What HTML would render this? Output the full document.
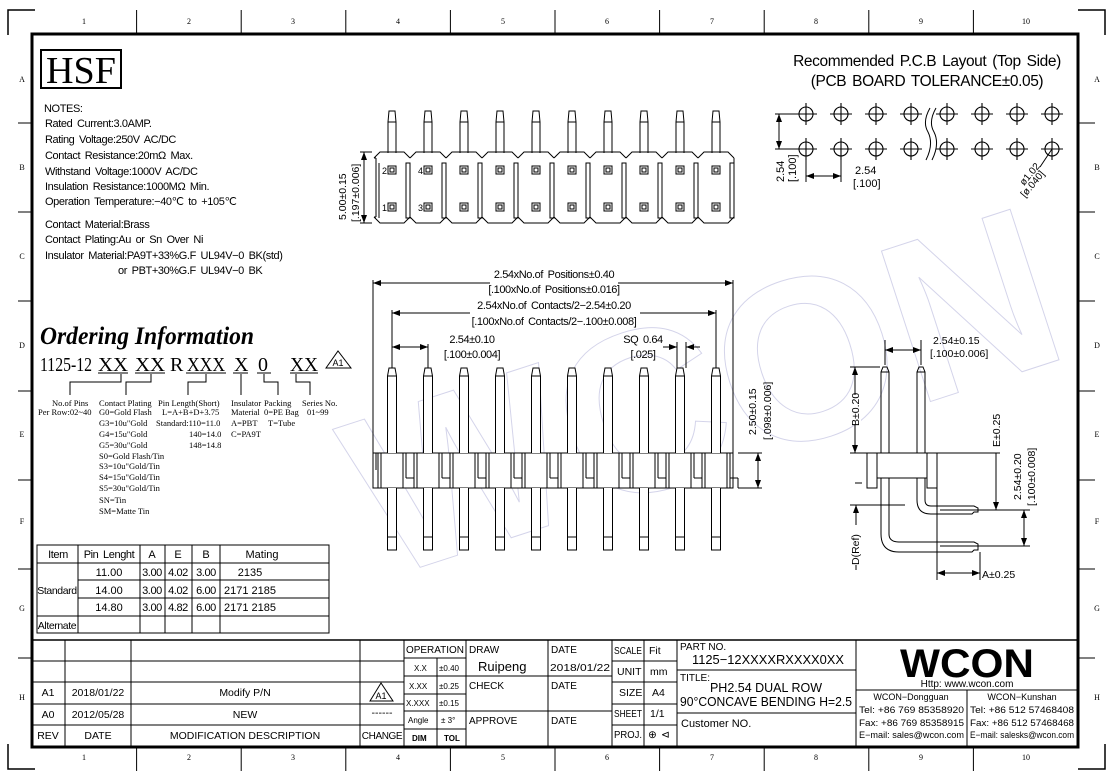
<!DOCTYPE html>
<html><head><meta charset="utf-8"><style>
html,body{margin:0;padding:0;background:#fff}
svg{display:block}
text{font-family:"Liberation Sans",sans-serif;fill:#000}
.s{font-family:"Liberation Serif",serif}
.n{letter-spacing:-0.4px;word-spacing:2px}
</style></head><body>
<svg width="1113" height="779" viewBox="0 0 1113 779" xmlns="http://www.w3.org/2000/svg">
<defs>
<g id="tp" fill="none" stroke="#000" stroke-width="1">
<path d="M-4,153 V122 L-3,111 H3 L4,122 V153 M-4,122 H4"/>
<path d="M-18,158 L-12,152 H12 L18,158 M-18,217 L-12,223 H12 L18,217"/>
<rect x="14" y="163" width="4" height="55"/>
<rect x="-4" y="166" width="8" height="8"/><rect x="-2" y="168" width="4" height="4"/>
<rect x="-4" y="203" width="8" height="8"/><rect x="-2" y="205" width="4" height="4"/>
</g>
<g id="fp" fill="#fff" stroke="#000" stroke-width="1">
<path d="M-4.5,453 V376 L-3,368 H3 L4.5,376 V453 M-4.5,376 H4.5"/>
<path d="M-4.5,488 V550 H4.5 V488 M-4.5,537 H4.5"/>
<path d="M-14,453 V488 M-11,453 V488 M11,453 V478 M14,453 V478 M14,478 H22 M11,478 V488 M22,478 V488" fill="none"/>
</g>
<g id="hole" fill="none" stroke="#000" stroke-width="1.1"><circle r="7"/><path d="M-11,0 H11 M0,-11 V11"/></g>
<marker id="ar" markerWidth="8" markerHeight="6" refX="8" refY="3" orient="auto-start-reverse" markerUnits="userSpaceOnUse"><path d="M0,0 L8,3 L0,6 z" fill="#000"/></marker>
</defs>

<path d="M8,35 V10 H35 M8,744 V769 H35 M1105,35 V10 H1078 M1105,744 V769 H1078" fill="none" stroke="#000" stroke-width="1.5"/>
<rect x="32" y="34" width="1046" height="713" fill="none" stroke="#000" stroke-width="3"/>
<g stroke="#000" stroke-width="1">
<path d="M136.6,10 V34 M241.2,10 V34 M345.8,10 V34 M450.4,10 V34 M555,10 V34 M659.6,10 V34 M764.2,10 V34 M868.8,10 V34 M973.4,10 V34"/>
<path d="M136.6,747 V771 M241.2,747 V771 M345.8,747 V771 M450.4,747 V771 M555,747 V771 M659.6,747 V771 M764.2,747 V771 M868.8,747 V771 M973.4,747 V771"/>
<path d="M18,123 H32 M18,212 H32 M18,301 H32 M18,391 H32 M18,480 H32 M18,569 H32 M18,658 H32"/>
<path d="M1078,123 H1095 M1078,212 H1095 M1078,301 H1095 M1078,391 H1095 M1078,480 H1095 M1078,569 H1095 M1078,658 H1095"/>
</g>
<g font-size="8" text-anchor="middle">
<text class="s" x="84" y="24">1</text><text class="s" x="189" y="24">2</text><text class="s" x="293" y="24">3</text><text class="s" x="398" y="24">4</text><text class="s" x="503" y="24">5</text><text class="s" x="607" y="24">6</text><text class="s" x="712" y="24">7</text><text class="s" x="816" y="24">8</text><text class="s" x="921" y="24">9</text><text class="s" x="1026" y="24">10</text>
<text class="s" x="84" y="760">1</text><text class="s" x="189" y="760">2</text><text class="s" x="293" y="760">3</text><text class="s" x="398" y="760">4</text><text class="s" x="503" y="760">5</text><text class="s" x="607" y="760">6</text><text class="s" x="712" y="760">7</text><text class="s" x="816" y="760">8</text><text class="s" x="921" y="760">9</text><text class="s" x="1026" y="760">10</text>
<text class="s" x="22" y="82">A</text><text class="s" x="22" y="170">B</text><text class="s" x="22" y="259">C</text><text class="s" x="22" y="348">D</text><text class="s" x="22" y="437">E</text><text class="s" x="22" y="524">F</text><text class="s" x="22" y="611">G</text><text class="s" x="22" y="700">H</text>
<text class="s" x="1097" y="82">A</text><text class="s" x="1097" y="170">B</text><text class="s" x="1097" y="259">C</text><text class="s" x="1097" y="348">D</text><text class="s" x="1097" y="437">E</text><text class="s" x="1097" y="524">F</text><text class="s" x="1097" y="611">G</text><text class="s" x="1097" y="700">H</text>
</g>

<text x="340" y="520" font-size="230" font-weight="bold" stroke="#d4d4ea" stroke-width="1" style="fill:none" transform="rotate(-18 550 420)">WCON</text>

<rect x="41" y="50" width="80" height="38" fill="none" stroke="#000" stroke-width="2"/>
<text class="s" x="81" y="83" font-size="38" text-anchor="middle" textLength="70" lengthAdjust="spacingAndGlyphs">HSF</text>

<g font-size="11">
<text class="n" x="44" y="112">NOTES:</text>
<text class="n" x="45" y="127">Rated Current:3.0AMP.</text>
<text class="n" x="45" y="143">Rating Voltage:250V AC/DC</text>
<text class="n" x="45" y="159">Contact Resistance:20mΩ Max.</text>
<text class="n" x="45" y="175">Withstand Voltage:1000V AC/DC</text>
<text class="n" x="45" y="190">Insulation Resistance:1000MΩ Min.</text>
<text class="n" x="45" y="205">Operation Temperature:−40℃ to +105℃</text>
<text class="n" x="45" y="228">Contact Material:Brass</text>
<text class="n" x="45" y="243">Contact Plating:Au or Sn Over Ni</text>
<text class="n" x="45" y="259">Insulator Material:PA9T+33%G.F UL94V−0 BK(std)</text>
<text class="n" x="118" y="274">or PBT+30%G.F UL94V−0 BK</text>
</g>

<text class="s" x="40" y="344" font-size="25" font-weight="bold" font-style="italic" textLength="214" lengthAdjust="spacingAndGlyphs">Ordering Information</text>
<g font-size="20">
<text class="s" x="40" y="371" textLength="52" lengthAdjust="spacingAndGlyphs">1125-12</text>
<text class="s" x="98" y="371" textLength="30" lengthAdjust="spacingAndGlyphs">XX</text>
<text class="s" x="135" y="371" textLength="30" lengthAdjust="spacingAndGlyphs">XX</text>
<text class="s" x="170" y="371">R</text>
<text class="s" x="187" y="371" textLength="38" lengthAdjust="spacingAndGlyphs">XXX</text>
<text class="s" x="234" y="371">X</text>
<text class="s" x="258" y="371">0</text>
<text class="s" x="290" y="371" textLength="28" lengthAdjust="spacingAndGlyphs">XX</text>
</g>
<path d="M98,373 H128 M135,373 H165 M186,373 H226 M233,373 H248 M257,373 H271 M290,373 H318" stroke="#000"/>
<path d="M326,368 L338,351 L351,368 Z" fill="none" stroke="#000"/>
<text x="338" y="366" font-size="9" text-anchor="middle">A1</text>
<path d="M121,374 V382 H70 V395 M151,374 V382 H126 V395 M206,374 V382 H188 V395 M241,374 V395 M264,374 V382 H278 V395 M296,374 V382 H310 V395" fill="none" stroke="#000"/>
<g font-size="8.5">
<text class="s" x="52" y="406">No.of Pins</text><text class="s" x="38" y="415">Per Row:02~40</text>
<text class="s" x="99" y="406">Contact Plating</text><text class="s" x="99" y="415">G0=Gold Flash</text>
<text class="s" x="99" y="426">G3=10u"Gold</text><text class="s" x="99" y="437">G4=15u"Gold</text><text class="s" x="99" y="448">G5=30u"Gold</text>
<text class="s" x="99" y="459">S0=Gold Flash/Tin</text><text class="s" x="99" y="469">S3=10u"Gold/Tin</text><text class="s" x="99" y="480">S4=15u"Gold/Tin</text><text class="s" x="99" y="491">S5=30u"Gold/Tin</text>
<text class="s" x="99" y="503">SN=Tin</text><text class="s" x="99" y="514">SM=Matte Tin</text>
<text class="s" x="158" y="406">Pin Length(Short)</text><text class="s" x="162" y="415">L=A+B+D+3.75</text>
<text class="s" x="156" y="426">Standard:110=11.0</text><text class="s" x="189" y="437">140=14.0</text><text class="s" x="189" y="448">148=14.8</text>
<text class="s" x="231" y="406">Insulator</text><text class="s" x="231" y="415">Material</text><text class="s" x="231" y="426">A=PBT</text><text class="s" x="231" y="437">C=PA9T</text>
<text class="s" x="264" y="406">Packing</text><text class="s" x="264" y="415">0=PE Bag</text><text class="s" x="268" y="426">T=Tube</text>
<text class="s" x="302" y="406">Series No.</text><text class="s" x="307" y="415">01~99</text>
</g>

<g fill="none" stroke="#000" stroke-width="1">
<rect x="37" y="545" width="292" height="88"/>
<path d="M78,545 V633 M140,545 V633 M165,545 V633 M192,545 V633 M220,545 V633"/>
<path d="M37,563 H329 M78,580 H329 M78,598 H329 M37,616 H329"/>
</g>
<g font-size="11" text-anchor="middle">
<text class="n" x="58" y="558">Item</text><text class="n" x="109" y="558">Pin Lenght</text><text x="152" y="558">A</text><text x="178" y="558">E</text><text x="206" y="558">B</text><text x="262" y="558">Mating</text>
<text x="109" y="576">11.00</text><text class="n" x="152" y="576">3.00</text><text class="n" x="178" y="576">4.02</text><text class="n" x="206" y="576">3.00</text><text x="250" y="576">2135</text>
<text class="n" x="57" y="594" font-size="10.5">Standard</text>
<text x="109" y="594">14.00</text><text class="n" x="152" y="594">3.00</text><text class="n" x="178" y="594">4.02</text><text class="n" x="206" y="594">6.00</text><text x="250" y="594">2171 2185</text>
<text x="109" y="611">14.80</text><text class="n" x="152" y="611">3.00</text><text class="n" x="178" y="611">4.82</text><text class="n" x="206" y="611">6.00</text><text x="250" y="611">2171 2185</text>
<text class="n" x="57" y="629" font-size="10.5">Alternate</text>
</g>

<g>
<use href="#tp" x="392"/><use href="#tp" x="428"/><use href="#tp" x="464"/><use href="#tp" x="500"/><use href="#tp" x="536"/><use href="#tp" x="572"/><use href="#tp" x="608"/><use href="#tp" x="644"/><use href="#tp" x="680"/><use href="#tp" x="716"/>
<path d="M376,158 V217 M379,163 V218 M374,158 H376 M374,217 H376 M734,158 V217" fill="none" stroke="#000"/>
<text x="382" y="174" font-size="9">2</text><text x="382" y="211" font-size="9">1</text><text x="418" y="174" font-size="9">4</text><text x="418" y="211" font-size="9">3</text>
<path d="M360,152 H372 M360,223 H372" stroke="#000"/>
<line x1="364" y1="152" x2="364" y2="223" stroke="#000" marker-start="url(#ar)" marker-end="url(#ar)"/>
<text font-size="10.5" transform="translate(346,220) rotate(-90)">5.00±0.15</text>
<text font-size="10.5" transform="translate(359,222) rotate(-90)">[.197±0.006]</text>
</g>

<g>
<rect x="373" y="453" width="360" height="35" fill="#fff" stroke="#000"/>
<use href="#fp" x="392"/><use href="#fp" x="428"/><use href="#fp" x="464"/><use href="#fp" x="500"/><use href="#fp" x="536"/><use href="#fp" x="572"/><use href="#fp" x="608"/><use href="#fp" x="644"/><use href="#fp" x="680"/><use href="#fp" x="716"/>
<path d="M376,453 V470 M730,453 V488" stroke="#000"/>
<path d="M373,453 V280 M733,453 V280 M392,368 V310 M716,368 V310 M428,368 V344 M677,368 V342 M686,368 V342" stroke="#000" fill="none"/>
<line x1="373" y1="283" x2="733" y2="283" stroke="#000" marker-start="url(#ar)" marker-end="url(#ar)"/>
<line x1="392" y1="313" x2="716" y2="313" stroke="#000" marker-start="url(#ar)" marker-end="url(#ar)"/>
<line x1="392" y1="347" x2="428" y2="347" stroke="#000" marker-start="url(#ar)" marker-end="url(#ar)"/>
<line x1="663" y1="347" x2="677" y2="347" stroke="#000" marker-end="url(#ar)"/>
<line x1="700" y1="347" x2="686" y2="347" stroke="#000" marker-end="url(#ar)"/>
<g font-size="11" text-anchor="middle">
<rect x="490" y="268" width="128" height="26" fill="#fff"/>
<text class="n" x="554" y="278">2.54xNo.of Positions±0.40</text>
<text class="n" x="554" y="293">[.100xNo.of Positions±0.016]</text>
<rect x="470" y="299" width="170" height="26" fill="#fff"/>
<text class="n" x="554" y="309">2.54xNo.of Contacts/2−2.54±0.20</text>
<text class="n" x="554" y="325">[.100xNo.of Contacts/2−.100±0.008]</text>
<text class="n" x="472" y="343">2.54±0.10</text><text class="n" x="472" y="358">[.100±0.004]</text>
<text class="n" x="643" y="343">SQ 0.64</text><text class="n" x="643" y="358">[.025]</text>
</g>
<path d="M738,453 H762 M738,488 H762" stroke="#000"/>
<line x1="758" y1="453" x2="758" y2="488" stroke="#000" marker-start="url(#ar)" marker-end="url(#ar)"/>
<text font-size="10.5" transform="translate(756,435) rotate(-90)">2.50±0.15</text>
<text font-size="10.5" transform="translate(771,440) rotate(-90)">[.098±0.006]</text>
</g>

<g fill="none" stroke="#000" stroke-width="1">
<path d="M881,453 V372 L883,367 H887 L889,372 V453 M881,372 H889"/>
<path d="M917,453 V372 L919,367 H923 L925,372 V453 M917,372 H925"/>
<rect x="877" y="453" width="50" height="25" fill="#fff"/>
<rect x="867" y="453" width="10" height="35"/><rect x="927" y="453" width="10" height="35"/>
<path d="M917,478 V500 Q917,514 931,514 H972 L974,512 H978 V508 L974,506 H931 Q925,506 925,500 V478"/>
<path d="M881,478 V534 Q881,552 899,552 H972 L974,550 H978 V544 L974,542 H899 Q889,542 889,534 V478"/>
<path d="M885,365 V340 M921,365 V340 M850,367 H880 M850,453 H1000 M855,483 H862 M850,505 H905 M940,510 H1030 M940,546 H1030 M937,488 V580 M980,552 V580"/>
</g>
<line x1="885" y1="350" x2="921" y2="350" stroke="#000" marker-start="url(#ar)" marker-end="url(#ar)"/>
<line x1="855" y1="367" x2="855" y2="453" stroke="#000" marker-start="url(#ar)" marker-end="url(#ar)"/>
<line x1="996" y1="453" x2="996" y2="510" stroke="#000" marker-end="url(#ar)"/>
<line x1="1024" y1="510" x2="1024" y2="546" stroke="#000" marker-start="url(#ar)" marker-end="url(#ar)"/>
<line x1="937" y1="573" x2="980" y2="573" stroke="#000" marker-start="url(#ar)" marker-end="url(#ar)"/>
<line x1="856" y1="505" x2="856" y2="570" stroke="#000" marker-start="url(#ar)"/>
<g font-size="10.5">
<rect x="849" y="395" width="12" height="30" fill="#fff"/>
<text transform="translate(859,426) rotate(-90)">B±0.20</text>
<rect x="991" y="410" width="12" height="36" fill="#fff"/>
<text transform="translate(1000,447) rotate(-90)">E±0.25</text>
<text transform="translate(1021,500) rotate(-90)">2.54±0.20</text>
<text transform="translate(1035,506) rotate(-90)">[.100±0.008]</text>
<rect x="850" y="525" width="12" height="40" fill="#fff"/>
<text transform="translate(859,565) rotate(-90)">D(Ref)</text>
<text x="982" y="578">A±0.25</text>
<text x="933" y="344">2.54±0.15</text>
<text x="930" y="357">[.100±0.006]</text>
</g>

<text x="927" y="66" font-size="15.5" text-anchor="middle" class="n">Recommended P.C.B Layout (Top Side)</text>
<text x="927" y="86" font-size="15.5" text-anchor="middle" class="n">(PCB BOARD TOLERANCE±0.05)</text>
<g>
<use href="#hole" x="806" y="114"/><use href="#hole" x="841" y="114"/><use href="#hole" x="876" y="114"/><use href="#hole" x="911" y="114"/>
<use href="#hole" x="947" y="114"/><use href="#hole" x="982" y="114"/><use href="#hole" x="1017" y="114"/><use href="#hole" x="1052" y="114"/>
<use href="#hole" x="806" y="149"/><use href="#hole" x="841" y="149"/><use href="#hole" x="876" y="149"/><use href="#hole" x="911" y="149"/>
<use href="#hole" x="947" y="149"/><use href="#hole" x="982" y="149"/><use href="#hole" x="1017" y="149"/><use href="#hole" x="1052" y="149"/>
<path d="M930,108 Q922,122 928,132 Q934,144 926,160 M936,108 Q928,122 934,132 Q940,144 932,160" fill="none" stroke="#000"/>
<path d="M775,114 H795 M775,149 H795 M806,160 V182 M841,160 V182 M1052,149 L1040,167" fill="none" stroke="#000"/>
<line x1="779" y1="114" x2="779" y2="149" stroke="#000" marker-start="url(#ar)" marker-end="url(#ar)"/>
<line x1="806" y1="176" x2="841" y2="176" stroke="#000" marker-start="url(#ar)" marker-end="url(#ar)"/>
<text font-size="11" transform="translate(784,182) rotate(-90)">2.54</text>
<text font-size="11" transform="translate(796,182) rotate(-90)">[.100]</text>
<text x="855" y="174" font-size="11">2.54</text><text x="853" y="187" font-size="11">[.100]</text>
<text font-size="10" transform="translate(1024,186) rotate(-50)">ø1.02</text>
<text font-size="10" transform="translate(1025,198) rotate(-50)">[ø.040]</text>
</g>

<g fill="none" stroke="#000" stroke-width="1">
<path d="M32,640 H1078" stroke-width="1.5"/>
<path d="M65,640 V747 M131,640 V747 M360,640 V747 M404,640 V747 M466,640 V747 M548,640 V747 M612,640 V747 M644,658 V747 M677,640 V747 M856,640 V747 M967,690 V747"/>
<path d="M32,661 H404 M32,682 H404 M32,704 H404 M32,725 H404"/>
<path d="M404,658 H466 M404,676 H548 M404,694 H466 M404,711 H548 M404,729 H466 M437,658 V747"/>
<path d="M548,676 H612 M548,711 H612"/>
<path d="M612,661 H677 M612,682 H677 M612,704 H677 M612,725 H677 M644,640 V661"/>
<path d="M677,670 H856 M677,713 H856 M856,690 H1078"/>
</g>
<g font-size="10.5">
<text x="48" y="696" text-anchor="middle">A1</text><text x="98" y="696" text-anchor="middle">2018/01/22</text><text x="245" y="696" text-anchor="middle">Modify P/N</text>
<text x="48" y="718" text-anchor="middle">A0</text><text x="98" y="718" text-anchor="middle">2012/05/28</text><text x="245" y="718" text-anchor="middle">NEW</text>
<text x="48" y="739" text-anchor="middle">REV</text><text x="98" y="739" text-anchor="middle">DATE</text><text x="245" y="739" text-anchor="middle">MODIFICATION DESCRIPTION</text>
<text x="382" y="739" text-anchor="middle" font-size="10" class="n">CHANGE</text><text x="382" y="716" text-anchor="middle">------</text>
<text x="406" y="653" font-size="10" textLength="58" lengthAdjust="spacingAndGlyphs">OPERATION</text><text x="469" y="653" font-size="10">DRAW</text><text x="551" y="653" font-size="10">DATE</text>
<text x="478" y="671" font-size="13">Ruipeng</text><text x="550" y="671" textLength="60" lengthAdjust="spacingAndGlyphs">2018/01/22</text>
<text x="469" y="689" font-size="10">CHECK</text><text x="551" y="689" font-size="10">DATE</text>
<text x="469" y="724" font-size="10">APPROVE</text><text x="551" y="724" font-size="10">DATE</text>
<text x="614" y="654" font-size="10" textLength="28" lengthAdjust="spacingAndGlyphs">SCALE</text><text x="649" y="654">Fit</text>
<text x="617" y="675">UNIT</text><text x="650" y="675">mm</text>
<text x="619" y="696">SIZE</text><text x="652" y="696">A4</text>
<text x="614" y="717" textLength="28" lengthAdjust="spacingAndGlyphs">SHEET</text><text x="650" y="717">1/1</text>
<text x="614" y="738" textLength="28" lengthAdjust="spacingAndGlyphs">PROJ.</text><text x="648" y="738">⊕</text><text x="661" y="738">⊲</text>
<text x="680" y="650" font-size="10">PART NO.</text>
<text x="692" y="664" font-size="13" textLength="152" lengthAdjust="spacingAndGlyphs">1125−12XXXXRXXXX0XX</text>
<text x="680" y="681" font-size="10">TITLE:</text>
<text x="766" y="692" font-size="12.5" text-anchor="middle">PH2.54 DUAL ROW</text>
<text x="766" y="706" font-size="12.5" text-anchor="middle" textLength="172" lengthAdjust="spacingAndGlyphs">90°CONCAVE BENDING H=2.5</text>
<text x="681" y="727" font-size="11">Customer NO.</text>
</g>
<g font-size="8">
<text x="414" y="671">X.X</text><text x="439" y="671">±0.40</text>
<text x="409" y="689">X.XX</text><text x="439" y="689">±0.25</text>
<text x="406" y="706">X.XXX</text><text x="439" y="706">±0.15</text>
<text x="408" y="723">Angle</text><text x="441" y="723">± 3°</text>
<text x="412" y="741" font-weight="bold">DIM</text><text x="444" y="741" font-weight="bold">TOL</text>
</g>
<path d="M370,701 L381,683 L393,701 Z" fill="none" stroke="#000"/><text x="381" y="699" font-size="9" text-anchor="middle">A1</text>
<text x="967" y="677" font-size="40" font-weight="bold" text-anchor="middle" textLength="134" lengthAdjust="spacingAndGlyphs" fill="#222">WCON</text>
<text x="967" y="687" font-size="10" text-anchor="middle">Http: www.wcon.com</text>
<g font-size="9">
<text x="911" y="700" text-anchor="middle">WCON−Dongguan</text>
<text x="859" y="713" textLength="105" lengthAdjust="spacingAndGlyphs">Tel: +86 769 85358920</text>
<text x="859" y="726" textLength="105" lengthAdjust="spacingAndGlyphs">Fax: +86 769 85358915</text>
<text x="859" y="738" textLength="105" lengthAdjust="spacingAndGlyphs">E−mail: sales@wcon.com</text>
<text x="1022" y="700" text-anchor="middle">WCON−Kunshan</text>
<text x="970" y="713" textLength="104" lengthAdjust="spacingAndGlyphs">Tel: +86 512 57468408</text>
<text x="970" y="726" textLength="104" lengthAdjust="spacingAndGlyphs">Fax: +86 512 57468468</text>
<text x="970" y="738" textLength="104" lengthAdjust="spacingAndGlyphs">E−mail: salesks@wcon.com</text>
</g>
</svg>
</body></html>
